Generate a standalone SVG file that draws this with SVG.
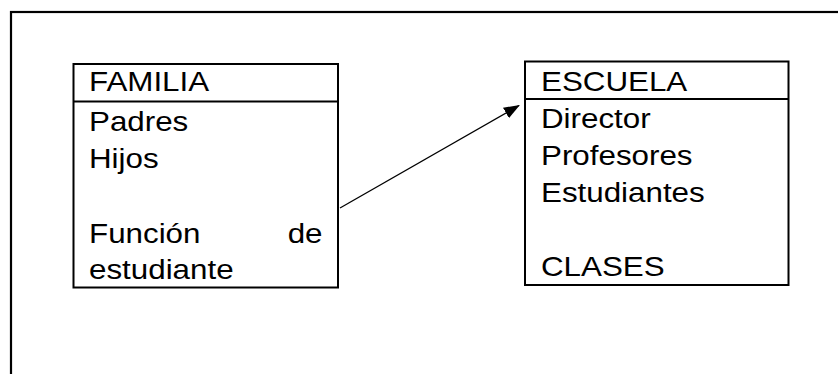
<svg xmlns="http://www.w3.org/2000/svg" width="838" height="374" viewBox="0 0 838 374">
<defs>
<style>
.box{fill:none;stroke:#000;stroke-width:2}
.t{font-family:"Liberation Sans",Arial,sans-serif;font-size:28.5px;fill:#000}
.c{stroke:#000;stroke-width:1.3;fill:none}
</style>
<marker id="ah" markerWidth="16" markerHeight="12" refX="15" refY="6" orient="auto" markerUnits="userSpaceOnUse">
<path d="M0,0 L16,6 L0,12 Z" fill="#000"/>
</marker>
</defs>
<rect width="838" height="374" fill="#fff"/>
<rect x="11" y="12" width="900" height="420" fill="none" stroke="#000" stroke-width="2.2"/>
<g id="familia">
<rect class="box" x="73.5" y="64" width="264.5" height="223.5"/>
<line class="box" x1="73.5" y1="101.5" x2="338" y2="101.5"/>
<text class="t" transform="translate(89 91) scale(1.1 1)">FAMILIA</text>
<text class="t" transform="translate(89 131) scale(1.1 1)">Padres</text>
<text class="t" transform="translate(89 167.5) scale(1.1 1)">Hijos</text>
<text class="t" transform="translate(89 242.5) scale(1.1 1)">Función</text>
<text class="t" transform="translate(322.5 242.5) scale(1.1 1)" text-anchor="end">de</text>
<text class="t" transform="translate(89 278.5) scale(1.1 1)">estudiante</text>
</g>
<g id="escuela">
<rect class="box" x="525" y="61.5" width="263.5" height="223.5"/>
<line class="box" x1="525" y1="99" x2="788.5" y2="99"/>
<text class="t" transform="translate(541 90.5) scale(1.1 1)">ESCUELA</text>
<text class="t" transform="translate(541 128.3) scale(1.1 1)">Director</text>
<text class="t" transform="translate(541 165.2) scale(1.1 1)">Profesores</text>
<text class="t" transform="translate(541 202) scale(1.1 1)">Estudiantes</text>
<text class="t" transform="translate(541 276) scale(1.1 1)">CLASES</text>
</g>
<g id="connectors">
<line class="c" x1="340" y1="208" x2="519" y2="105.5" marker-end="url(#ah)"/>
</g>
</svg>
